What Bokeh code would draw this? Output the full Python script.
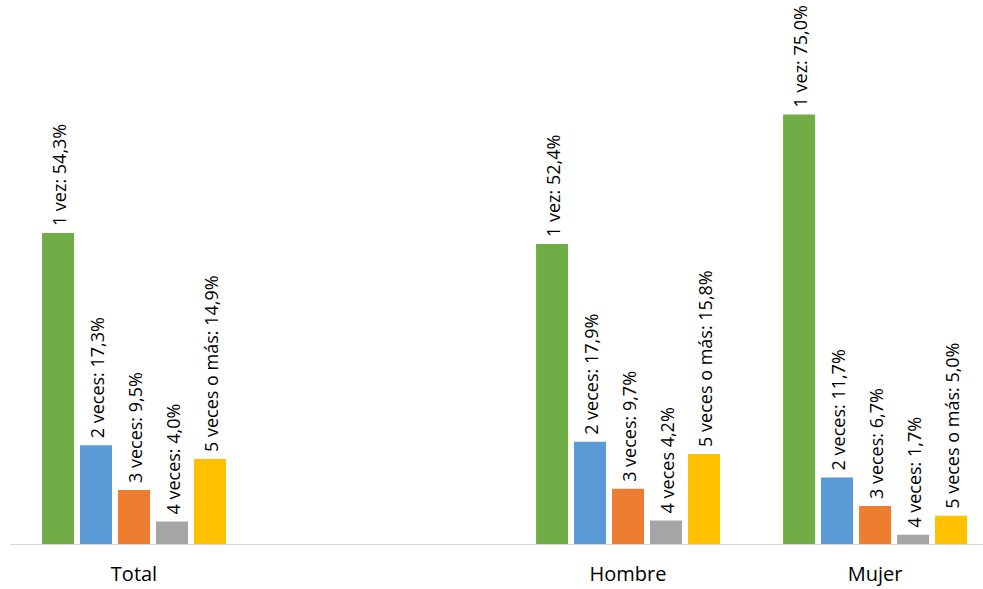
import numpy as np
from bokeh.plotting import figure
from bokeh.models import ColumnDataSource, Range1d, FixedTicker
from bokeh.core.properties import value
from bokeh.embed import file_html
from bokeh.resources import INLINE

categories = ["Total", "", "Hombre", "Mujer"]
series = ["1 vez", "2 veces", "3 veces", "4 veces", "5 veces o más"]
colors = ["#70AD47", "#5B9BD5", "#ED7D31", "#A5A5A5", "#FFC000"]
total = [54.3, 17.3, 9.5, 4.0, 14.9]
hombre = [52.4, 17.9, 9.7, 4.2, 15.8]
mujer = [75.0, 11.7, 6.7, 1.7, 5.0]
labels_total = ["1 vez: 54,3%", "2 veces: 17,3%", "3 veces: 9,5%", "4 veces: 4,0%", "5 veces o más: 14,9%"]
labels_hombre = ["1 vez: 52,4%", "2 veces: 17,9%", "3 veces: 9,7%", "4 veces 4,2%", "5 veces o más: 15,8%"]
labels_mujer = ["1 vez: 75,0%", "2 veces:  11,7%", "3 veces: 6,7%", "4 veces:  1,7%", "5 veces o más: 5,0%"]

groups = [("Total", total, labels_total), ("Hombre", hombre, labels_hombre), ("Mujer", mujer, labels_mujer)]

STEP = 0.1538
BAR_W = 0.1296

p = figure(width=983, height=589, output_backend="svg", toolbar_location=None,
           x_range=Range1d(-0.5, 3.439), y_range=Range1d(0, 94.86),
           min_border_left=10, min_border_right=0, min_border_top=0, min_border_bottom=0)
p.outline_line_color = None
p.grid.visible = False
p.yaxis.visible = False
p.background_fill_color = "white"
p.border_fill_color = "white"

for i, name in enumerate(series):
    xs = [categories.index(g) + (i - 2) * STEP for g, _, _ in groups]
    tops = [vals[i] for _, vals, _ in groups]
    texts = [labs[i] for _, _, labs in groups]
    src = ColumnDataSource(dict(x=xs, top=tops, text=texts))
    p.vbar(x="x", top="top", width=BAR_W, bottom=0, source=src,
           fill_color=colors[i], line_color=None)
    p.text(x="x", y="top", text="text", source=src, angle=np.pi / 2,
           text_align="left", text_baseline="middle", y_offset=-7, x_offset=1,
           text_font=value("Open Sans"), text_font_size="18px", text_color="#000000")

ax = p.xaxis[0]
ax.ticker = FixedTicker(ticks=[i for i, c in enumerate(categories) if c])
ax.major_label_overrides = {i: c for i, c in enumerate(categories) if c}
ax.axis_line_color = "#D9D9D9"
ax.axis_line_width = 1
ax.major_tick_line_color = None
ax.minor_tick_line_color = None
ax.major_tick_out = 0
ax.major_tick_in = 0
ax.major_label_text_font = "Open Sans"
ax.major_label_text_font_size = "20px"
ax.major_label_text_color = "#000000"
ax.major_label_standoff = 15

open("out.html", "w").write(file_html(p, INLINE))
